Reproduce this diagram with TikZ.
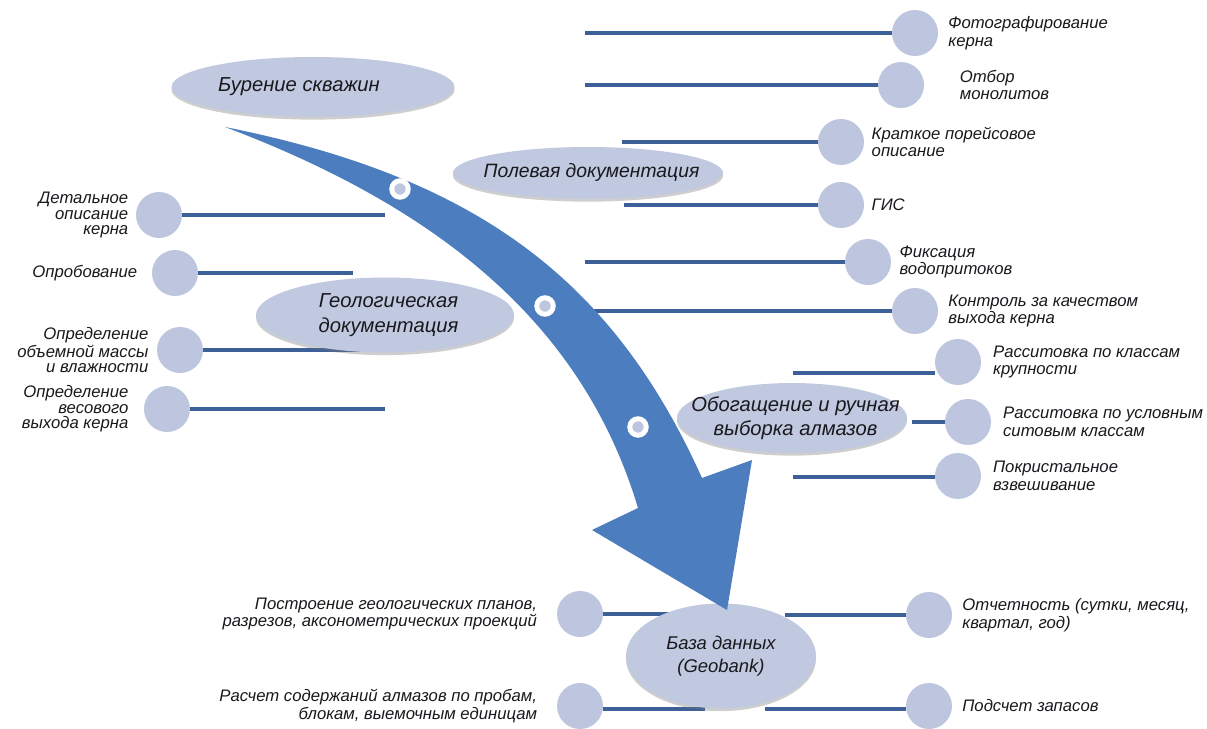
\documentclass[tikz,border=0pt]{standalone}
\usepackage{fontspec}
\setmainfont{Liberation Sans}
\usetikzlibrary{shapes.geometric,shadows,positioning}

\definecolor{krugC}{RGB}{189,198,222}
\definecolor{ovalC}{RGB}{192,201,223}
\definecolor{liniyaC}{RGB}{62,96,152}
\definecolor{strelkaC}{RGB}{76,125,191}
\definecolor{tekstC}{RGB}{25,25,30}

\begin{document}
\begin{tikzpicture}[x=0.02cm, y=-0.02cm,
		oval/.style={ellipse, fill=ovalC, inner sep=0pt,
			drop shadow={shadow xshift=0pt, shadow yshift=-1.5pt,
				opacity=0.35, fill=black!55}},
		ovalTekst/.style={align=center, inner sep=0pt, text=tekstC,
			font=\fontsize{11.5}{14}\selectfont\itshape},
		krug/.style={circle, fill=krugC, minimum size=0.92cm, inner sep=0pt},
		podpis/.style={inner sep=0pt, text=tekstC,
			font=\fontsize{9.5}{10}\selectfont\itshape},
		podpisP/.style={podpis, align=left},
		podpisL/.style={podpis, align=right},
		liniya/.style={line width=2.8pt, liniyaC},
		strelka/.style={fill=strelkaC},
		kolco/.style={circle, fill=krugC, draw=white, line width=2.8pt,
			minimum size=0.33cm, inner sep=0pt}]
	
	\fill[white] (0,0) rectangle (1207,729);
	\useasboundingbox (0,0) rectangle (1207,729);
	
	%% --- kruzhki sprava (polevaya dokumentaciya i obogashchenie) ---
	\node[krug] (kFoto)  at (915,33)  {};
	\node[krug] (kOtbor) at (901,85)  {};
	\node[krug] (kKratk) at (841,142) {};
	\node[krug] (kGis)   at (841,205) {};
	\node[krug] (kFiks)  at (868,262) {};
	\node[krug] (kKontr) at (915,311) {};
	\node[krug] (kRass1) at (958,362) {};
	\node[krug] (kRass2) at (968,422) {};
	\node[krug] (kPokr)  at (958,476) {};
	
	\node[podpisP, right=5.5pt of kFoto]  (tFoto)  {Фотографирование\\керна};
	\node[podpisP, right=20pt of kOtbor]  (tOtbor) {Отбор\\монолитов};
	\node[podpisP, right=4pt of kKratk]   (tKratk) {Краткое порейсовое\\описание};
	\node[podpisP, right=4pt of kGis]     (tGis)   {ГИС};
	\node[podpisP, right=4.5pt of kFiks]  (tFiks)  {Фиксация\\водопритоков};
	\node[podpisP, right=5.5pt of kKontr] (tKontr) {Контроль за качеством\\выхода керна};
	\node[podpisP, right=6.5pt of kRass1] (tRass1) {Расситовка по классам\\крупности};
	\node[podpisP, right=6.5pt of kRass2] (tRass2) {Расситовка по условным\\ситовым классам};
	\node[podpisP, right=6.5pt of kPokr]  (tPokr)  {Покристальное\\взвешивание};
	
	%% --- kruzhki sleva (geologicheskaya dokumentaciya) ---
	\node[krug] (kDet) at (159,215) {};
	\node[krug] (kOpr) at (175,273) {};
	\node[krug] (kObm) at (180,350) {};
	\node[krug] (kVes) at (167,409) {};
	
	\tikzset{podpis/.append style={font=\fontsize{9.5}{8.8}\selectfont\itshape}}
	\node[podpisL, left=4pt of kDet] (tDet) {Детальное\\описание\\керна};
	\node[podpisL, left=8pt of kOpr] (tOpr) {Опробование};
	\node[podpisL, left=4.5pt of kObm] (tObm) {Определение\\объемной массы\\и влажности};
	\node[podpisL, left=8.5pt of kVes] (tVes) {Определение\\весового\\выхода керна};
	\tikzset{podpis/.append style={font=\fontsize{9.5}{10}\selectfont\itshape}}
	
	%% --- kruzhki vnizu (baza dannyh) ---
	\node[krug] (kPostr) at (580,614) {};
	\node[krug] (kRasch) at (580,706) {};
	\node[krug] (kOtch)  at (929,615) {};
	\node[krug] (kPods)  at (929,706) {};
	
	\node[podpisL, left=11pt of kPostr] (tPostr)
		{Построение геологических планов,\\разрезов, аксонометрических проекций};
	\node[podpisL, left=11pt of kRasch] (tRasch)
		{Расчет содержаний алмазов по пробам,\\блокам, выемочным единицам};
	\node[podpisP, right=5.5pt of kOtch] (tOtch) {Отчетность (сутки, месяц,\\квартал, год)};
	\node[podpisP, right=5.5pt of kPods] (tPods) {Подсчет запасов};
	
	%% --- svobodnye koncy linij ---
	\coordinate (lFoto)  at (585,33);
	\coordinate (lOtbor) at (585,85);
	\coordinate (lKratk) at (622,142);
	\coordinate (lGis)   at (624,205);
	\coordinate (lFiks)  at (585,262);
	\coordinate (lKontr) at (585,311);
	\coordinate (lRass1) at (793,373);
	\coordinate (lRass2) at (912,422);
	\coordinate (lPokr)  at (793,477);
	\coordinate (lDet)   at (385,215);
	\coordinate (lOpr)   at (353,273);
	\coordinate (lObm)   at (360,350);
	\coordinate (lVes)   at (385,409);
	\coordinate (lPostr) at (700,614);
	\coordinate (lRasch) at (705,709);
	\coordinate (lOtch)  at (785,615);
	\coordinate (lPods)  at (765,709);
	
	\draw[liniya] (lFoto)  -- (kFoto.west);
	\draw[liniya] (lOtbor) -- (kOtbor.west);
	\draw[liniya] (lKratk) -- (kKratk.west);
	\draw[liniya] (lGis)   -- (kGis.west);
	\draw[liniya] (lFiks)  -- (kFiks.west);
	\draw[liniya] (lKontr) -- (kKontr.west);
	\draw[liniya] (lRass1) -- (kRass1.west |- lRass1);
	\draw[liniya] (lRass2) -- (kRass2.west);
	\draw[liniya] (lPokr)  -- (kPokr.west |- lPokr);
	\draw[liniya] (kDet.east) -- (lDet);
	\draw[liniya] (kOpr.east) -- (lOpr);
	\draw[liniya] (kObm.east) -- (lObm);
	\draw[liniya] (kVes.east) -- (lVes);
	\draw[liniya] (kPostr.east) -- (lPostr);
	\draw[liniya] (kRasch.east |- lRasch) -- (lRasch);
	\draw[liniya] (lOtch) -- (kOtch.west);
	\draw[liniya] (lPods) -- (kPods.west |- lPods);
	
	%% --- ovaly etapov (tekst kak label v centre) ---
	\node[oval, minimum width=5.66cm, minimum height=1.2cm,
		label={[ovalTekst, xshift=-8pt]center:Бурение скважин}] (burenie) at (313,87) {};
	\node[oval, minimum width=5.4cm, minimum height=1.04cm,
		label={[ovalTekst, xshift=2pt, font=\fontsize{11}{14}\selectfont\itshape]center:Полевая документация}] (polevaya) at (588,173) {};
	\node[oval, minimum width=5.16cm, minimum height=1.5cm,
		label={[ovalTekst, xshift=2pt]center:Геологическая\\документация}] (geol) at (385,315) {};
	\node[oval, minimum width=4.6cm, minimum height=1.4cm,
		label={[ovalTekst, xshift=2pt]center:Обогащение и ручная\\выборка алмазов}] (obogasch) at (792,418) {};
	\node[oval, minimum width=3.8cm, minimum height=2.1cm,
		label={[ovalTekst, font=\fontsize{10.5}{13}\selectfont\itshape]center:База данных\\(Geobank)}] (baza) at (721,656) {};
	
	%% --- bolshaya strelka: verhnij kraj -> nakonechnik -> nizhnij kraj ---
	\fill[strelka] (225,127) .. controls (475,177) and (612,278) .. (702,478)
		-- (752,460) -- (727,610) -- (592,530) -- (638,508)
		.. controls (584,328) and (445,210) .. (225,127) -- cycle;
	
	%% --- kolca na strelke ---
	\node[kolco] (k1) at (400,189) {};
	\node[kolco] (k2) at (545,306) {};
	\node[kolco] (k3) at (638,427) {};
	
\end{tikzpicture}
\end{document}
